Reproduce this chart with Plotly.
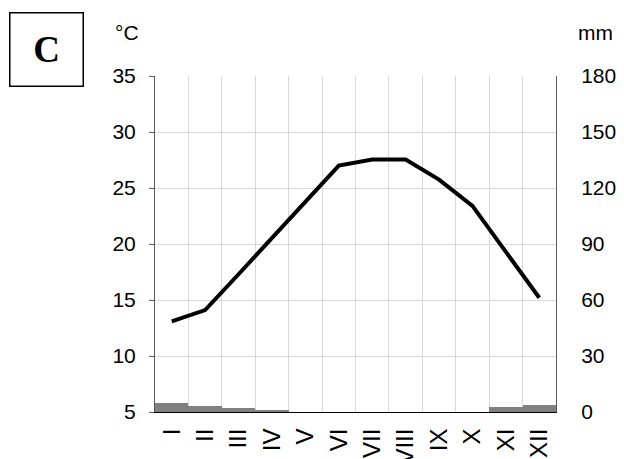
import plotly.graph_objects as go

months = ["I", "II", "III", "IV", "V", "VI", "VII", "VIII", "IX", "X", "XI", "XII"]
temperature_c = [13.1, 14.1, 17.3, 20.5, 23.7, 27.0, 27.55, 27.55, 25.75, 23.4, 19.3, 15.2]
precipitation_mm = [4.7, 3.0, 2.1, 1.0, 0, 0, 0, 0, 0, 0, 2.7, 4.0]

temp_ticks = [5, 10, 15, 20, 25, 30, 35]
precip_ticks = [0, 30, 60, 90, 120, 150, 180]

font_main = "Liberation Sans, Arial, sans-serif"

# page body has an 8px default margin; figure sized/positioned to compensate
OFF = 8
W, H = 624 - OFF, 459 - OFF
L, R, T, B = 155 - OFF, 624 - 556, 76 - OFF, 459 - 412
pw = W - L - R
ph = H - T - B


def px(x):
    return (x - OFF - L) / pw


def py(y):
    return 1 - (y - OFF - T) / ph


fig = go.Figure()
fig.add_trace(go.Bar(
    x=months, y=precipitation_mm, yaxis="y2",
    marker=dict(color="#808080", line=dict(width=0)),
    showlegend=False,
))
fig.add_trace(go.Scatter(
    x=months, y=temperature_c, yaxis="y", mode="lines",
    line=dict(color="black", width=4),
    showlegend=False,
))

fig.update_layout(
    width=W, height=H,
    margin=dict(l=L, r=R, t=T, b=B, autoexpand=False),
    paper_bgcolor="white", plot_bgcolor="white",
    bargap=0,
    font=dict(family=font_main, size=21, color="black"),
    xaxis=dict(
        type="category", tickson="boundaries", automargin=False,
        showgrid=True, gridcolor="#d9d9d9", gridwidth=1,
        showline=True, linecolor="black", linewidth=1,
        ticks="", tickangle=-90, ticklabelstandoff=6,
        tickfont=dict(family="Liberation Sans Narrow, Liberation Sans, Arial", size=24),
        zeroline=False,
    ),
    yaxis=dict(
        range=[5, 35], tickvals=temp_ticks, automargin=False,
        showgrid=True, gridcolor="#d9d9d9", gridwidth=1,
        showline=True, linecolor="#595959", linewidth=1,
        ticks="outside", ticklen=5, tickcolor="#595959",
        ticklabelstandoff=9,
        zeroline=False,
    ),
    yaxis2=dict(
        range=[0, 180], tickvals=precip_ticks, overlaying="y", side="right",
        automargin=False,
        showgrid=False, showline=True, linecolor="#595959", linewidth=1,
        ticks="", ticklabelstandoff=20, zeroline=False,
    ),
    annotations=[
        dict(text="°C", x=px(127), y=py(32), xref="paper", yref="paper", showarrow=False,
             xanchor="center", yanchor="middle", font=dict(size=21)),
        dict(text="mm", x=px(595), y=py(32), xref="paper", yref="paper", showarrow=False,
             xanchor="center", yanchor="middle", font=dict(size=21)),
        dict(text="<b>C</b>", x=px(46), y=py(49), xref="paper", yref="paper", showarrow=False,
             xanchor="center", yanchor="middle",
             font=dict(family="Liberation Serif, Times New Roman, serif", size=37),
             width=72, height=72, bordercolor="black", borderwidth=1.5, borderpad=0),
    ],
)

fig.write_html("out.html")
